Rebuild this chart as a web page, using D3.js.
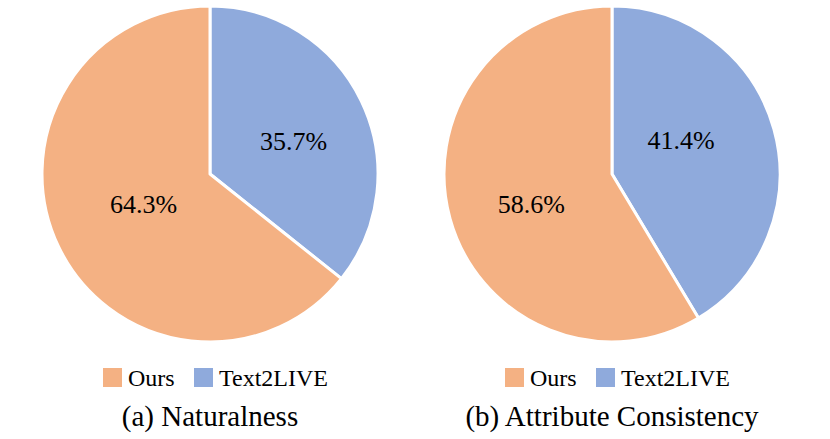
<!DOCTYPE html>
<html lang="en">

<head>
    <meta charset="UTF-8">
    <title>Naturalness / Attribute Consistency</title>
    <script src="https://d3js.org/d3.v7.min.js"></script>
    <style>
        html,
        body {
            margin: 0;
            padding: 0;
            overflow: hidden;
            background: #ffffff;
        }
    </style>
</head>

<body>
    <svg id="chart" width="830" height="439"></svg>

    <script>
        // data
        const categories = ["Ours", "Text2LIVE"];
        const naturalness = [64.3, 35.7];
        const consistency = [58.6, 41.4];
        const captions = ["(a) Naturalness", "(b) Attribute Consistency"];

        const serif = "'Liberation Serif', 'Times New Roman', serif";
        const colors = d3.scaleOrdinal().domain(categories).range(["#F4B183", "#8FAADC"]);

        // layout of the two pies
        const panels = [
            { values: naturalness, caption: captions[0], cx: 210, labelPolar: [[245.7, 73], [68.4, 90]] },
            { values: consistency, caption: captions[1], cx: 612, labelPolar: [[249.6, 86], [63.9, 77]] }
        ];
        const cy = 174;
        const radius = 168;

        const svg = d3.select("#chart");

        // Text2LIVE starts at 12 o'clock going clockwise, Ours fills the rest
        const pie = d3.pie()
            .sort(null)
            .value(d => d.value);

        const arc = d3.arc().innerRadius(0).outerRadius(radius);

        panels.forEach(p => {
            const rows = categories.map((c, i) => ({ name: c, value: p.values[i], idx: i }));
            const arcs = pie([rows[1], rows[0]]);

            const g = svg.append("g").attr("transform", `translate(${p.cx},${cy})`);

            g.selectAll("path")
                .data(arcs)
                .enter().append("path")
                .attr("d", arc)
                .attr("fill", d => colors(d.data.name))
                .attr("stroke", "#ffffff")
                .attr("stroke-width", 3)
                .attr("stroke-linejoin", "round");

            g.selectAll("text.pct")
                .data(arcs)
                .enter().append("text")
                .attr("class", "pct")
                .attr("text-anchor", "middle")
                .attr("font-family", serif)
                .attr("font-size", "26px")
                .attr("fill", "#000")
                .attr("x", d => {
                    const [a, r] = p.labelPolar[d.data.idx];
                    return r * Math.sin(a * Math.PI / 180);
                })
                .attr("y", d => {
                    const [a, r] = p.labelPolar[d.data.idx];
                    return -r * Math.cos(a * Math.PI / 180) + 9;
                })
                .text(d => d3.format(".1f")(d.data.value) + "%");

            // legend
            const legend = svg.append("g").attr("transform", `translate(${p.cx},0)`);
            const items = [{ name: categories[0], x: -107 }, { name: categories[1], x: -16 }];
            items.forEach(it => {
                legend.append("rect")
                    .attr("x", it.x)
                    .attr("y", 368)
                    .attr("width", 19)
                    .attr("height", 19)
                    .attr("fill", colors(it.name));
                legend.append("text")
                    .attr("x", it.x + 25)
                    .attr("y", 386)
                    .attr("font-family", serif)
                    .attr("font-size", "24px")
                    .attr("fill", "#000")
                    .text(it.name);
            });

            svg.append("text")
                .attr("x", p.cx)
                .attr("y", 426)
                .attr("text-anchor", "middle")
                .attr("font-family", serif)
                .attr("font-size", "29px")
                .attr("fill", "#000")
                .text(p.caption);
        });
    </script>
</body>

</html>
